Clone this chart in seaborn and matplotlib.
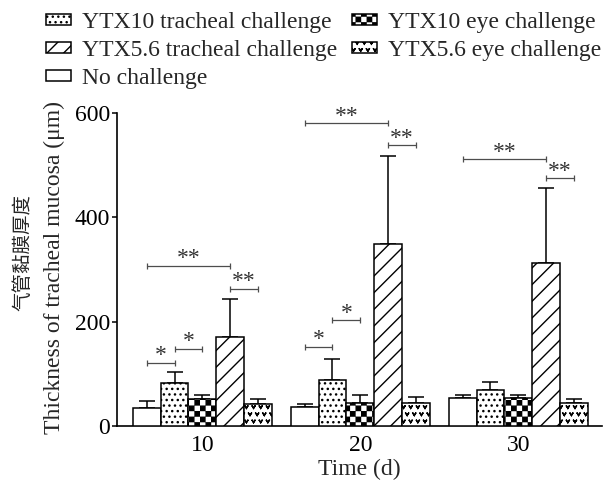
import numpy as np
import pandas as pd
import matplotlib
matplotlib.use('Agg')
import matplotlib.pyplot as plt
import matplotlib.hatch as mhatch
from matplotlib.path import Path
import seaborn as sns

# ---- data ----
days = ['10', '20', '30']
groups = ['No challenge', 'YTX10 tracheal challenge', 'YTX10 eye challenge',
          'YTX5.6 tracheal challenge', 'YTX5.6 eye challenge']
no_challenge = [35, 36, 53]
ytx10_tracheal = [82, 89, 69]
ytx10_eye = [51, 44, 54]
ytx56_tracheal = [170, 349, 313]
ytx56_eye = [42, 45, 45]
no_challenge_sd = [12, 6, 6]
ytx10_tracheal_sd = [21, 39, 15]
ytx10_eye_sd = [8, 16, 5]
ytx56_tracheal_sd = [74, 169, 144]
ytx56_eye_sd = [10, 10, 6]

# significance brackets: day, from group, to group, height, label
sig_day = ['10', '10', '10', '10', '20', '20', '20', '20', '30', '30']
sig_from = [0, 1, 0, 3, 0, 1, 0, 3, 0, 3]
sig_to = [1, 2, 3, 4, 1, 2, 3, 4, 3, 4]
sig_y = [121, 148, 307, 263, 152, 203, 581, 538, 512, 475]
sig_text = ['*', '*', '**', '**', '*', '*', '**', '**', '**', '**']


# ---- custom hatches: checkerboard ('O') and small v marks ('o') ----
class CheckerSquares(mhatch.HatchPatternBase):
    def __init__(self, hatch, density):
        self.n = hatch.count('O') * density
        self.num_vertices = (self.n * self.n // 2) * 5

    def set_vertices_and_codes(self, vertices, codes):
        step = 1.0 / self.n
        shrink = 0.006
        s = step - 2 * shrink
        k = 0
        for i in range(self.n):
            for j in range(self.n):
                if (i + j) % 2:
                    continue
                x0, y0 = i * step + shrink, j * step + shrink
                vertices[k:k + 5] = [(x0, y0), (x0 + s, y0), (x0 + s, y0 + s),
                                     (x0, y0 + s), (x0, y0)]
                codes[k:k + 5] = [Path.MOVETO, Path.LINETO, Path.LINETO,
                                  Path.LINETO, Path.CLOSEPOLY]
                k += 5


class VMarks(mhatch.Shapes):
    size = 0.42
    filled = False

    def __init__(self, hatch, density):
        self.num_rows = hatch.count('o') * 7   # must stay even
        self.shape_vertices = np.array([[-0.5, 0.4], [0.0, -0.4], [0.5, 0.4]])
        self.shape_codes = np.array([Path.MOVETO, Path.LINETO, Path.LINETO],
                                    dtype=Path.code_type)
        super().__init__(hatch, density)


mhatch._hatch_types = [t for t in mhatch._hatch_types
                       if t not in (mhatch.SmallCircles, mhatch.LargeCircles)]
mhatch._hatch_types += [CheckerSquares, VMarks]

sns.set_theme(style='ticks')
plt.rcParams['font.family'] = ['Liberation Serif', 'Noto Sans CJK SC']
plt.rcParams['hatch.linewidth'] = 1.0
plt.rcParams['hatch.color'] = 'black'

means = [no_challenge, ytx10_tracheal, ytx10_eye, ytx56_tracheal, ytx56_eye]
sds = [no_challenge_sd, ytx10_tracheal_sd, ytx10_eye_sd, ytx56_tracheal_sd, ytx56_eye_sd]
hatches = ['', '...', 'OOO', '//', 'oo']

df = pd.DataFrame({
    'day': [d for g in groups for d in days],
    'group': [g for g in groups for d in days],
    'thickness': [v for m in means for v in m],
})

fig = plt.figure(figsize=(6.06, 4.86), dpi=100)
ax = fig.add_axes([117 / 606, 1 - 426 / 486, 485 / 606, 313 / 486])

sns.barplot(data=df, x='day', y='thickness', hue='group', order=days,
            hue_order=groups, palette={g: 'white' for g in groups},
            edgecolor='black', linewidth=1.1, width=0.88, errorbar=None,
            saturation=1, legend=False, ax=ax, zorder=3)

bar_containers = list(ax.containers)
centers = {}
for i, cont in enumerate(bar_containers):
    xs = []
    for bar in cont.patches:
        bar.set_hatch(hatches[i])
        xs.append(bar.get_x() + bar.get_width() / 2)
    centers[i] = dict(zip(days, xs))
    ax.errorbar(xs, means[i], yerr=[np.zeros(len(days)), sds[i]], fmt='none',
                ecolor='black', elinewidth=1.1, capsize=5.5, capthick=1.1, zorder=2)

for d, a, b, y, t in zip(sig_day, sig_from, sig_to, sig_y, sig_text):
    x1, x2 = centers[a][d], centers[b][d]
    ax.plot([x1, x2], [y, y], color='0.3', lw=0.9, marker='|', markersize=5,
            markeredgewidth=0.9, zorder=4)
    ax.annotate(t, xy=((x1 + x2) / 2, y), xytext=(0, 1), textcoords='offset points',
                ha='center', va='baseline', fontsize=17, color='0.2')

ax.set_ylim(0, 600)
ax.set_xlim(-0.54, 2.53)
ax.set_yticks([0, 200, 400, 600])
sns.despine(ax=ax)
for s in ['left', 'bottom']:
    ax.spines[s].set_linewidth(1.2)
    ax.spines[s].set_color('black')
ax.tick_params(axis='y', length=3.6, width=1.1, pad=1.5, labelsize=17, colors='black')
ax.tick_params(axis='x', length=0, pad=6.5, labelsize=17, colors='black')

ax.set_xlabel('Time (d)', fontsize=17, labelpad=2)
ax.set_ylabel('Thickness of tracheal mucosa (μm)', fontsize=17)
ax.yaxis.set_label_coords(-0.107, 0.505)
ax.text(-0.194, 0.553, '气管黏膜厚度', transform=ax.transAxes, rotation=90,
        ha='center', va='center', fontsize=14, family=['Noto Sans CJK SC'])

order = [1, 3, 0, 2, 4]
handles = [bar_containers[i].patches[0] for i in order]
labels = [groups[i] for i in order]
fig.legend(handles, labels, loc='upper left', bbox_to_anchor=(46 / 606, 1 - 12 / 486),
           ncol=2, frameon=False, fontsize=17, handlelength=1.06, handleheight=0.33,
           handletextpad=0.45, columnspacing=0.65, labelspacing=0.29,
           borderpad=0, borderaxespad=0)

fig.savefig('out.png', dpi=100)
